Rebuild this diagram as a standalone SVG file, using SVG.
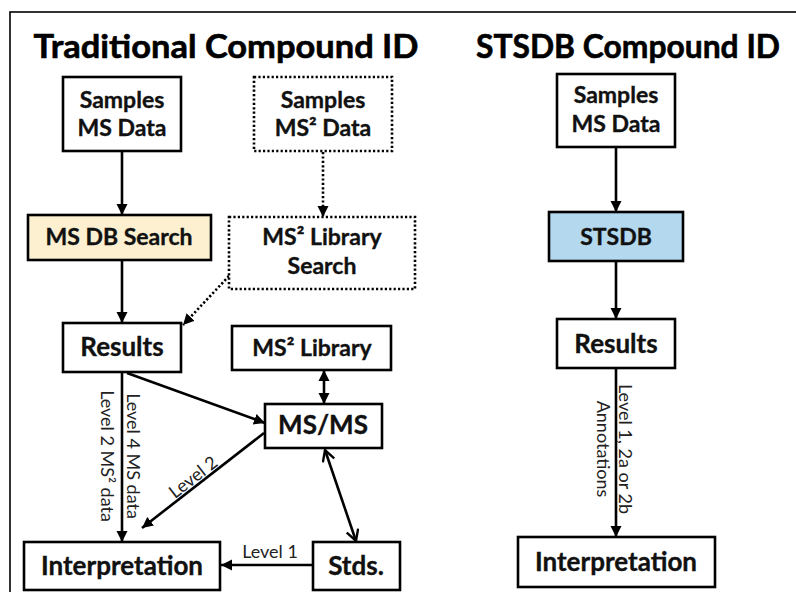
<svg xmlns="http://www.w3.org/2000/svg" width="796" height="592" viewBox="0 0 796 592">
<style>
.box{fill:#fff;stroke:#000;stroke-width:2.6}
.dot{fill:#fff;stroke:#000;stroke-width:2.6;stroke-dasharray:2.2 2.2}
.t{font-family:Lato,"Open Sans","Liberation Sans",sans-serif;font-weight:700;fill:#111;stroke:#111;stroke-width:0.35;text-anchor:middle}
.s{font-size:23px}
.m{font-size:26px}
.title{font-family:Lato,"Open Sans","Liberation Sans",sans-serif;font-weight:700;font-size:33px;fill:#000;stroke:#000;stroke-width:0.6;text-anchor:middle}
.lab{font-family:Lato,"Open Sans","Liberation Sans",sans-serif;font-weight:400;font-size:18px;fill:#222;text-anchor:middle}
.c{fill:none;stroke:#000;stroke-width:2.6}
.cd{fill:none;stroke:#000;stroke-width:2.6;stroke-dasharray:2.2 2.2}
</style>
<defs>
<marker id="ah" markerUnits="userSpaceOnUse" markerWidth="12" markerHeight="12" refX="11" refY="6" orient="auto-start-reverse" viewBox="0 0 12 12">
<path d="M0,0.5 L11,6 L0,11.5 z" fill="#000"/>
</marker>
<marker id="oh" markerUnits="userSpaceOnUse" markerWidth="14" markerHeight="14" refX="12" refY="7" orient="auto-start-reverse" viewBox="0 0 14 14">
<path d="M1,1 L12,7 L1,13" fill="none" stroke="#000" stroke-width="2.4"/>
</marker>
</defs>
<rect x="0" y="0" width="796" height="592" fill="#fff"/>
<rect x="10" y="12" width="820" height="620" fill="none" stroke="#000" stroke-width="1.6"/>
<text class="title" x="226" y="58" textLength="385" lengthAdjust="spacingAndGlyphs">Traditional Compound ID</text>
<text class="title" x="628" y="58" textLength="304" lengthAdjust="spacingAndGlyphs">STSDB Compound ID</text>

<g id="connectors">
<line class="c" x1="122" y1="151" x2="122" y2="215" marker-end="url(#ah)"/>
<line class="cd" x1="323" y1="152" x2="323" y2="217" marker-end="url(#ah)"/>
<line class="c" x1="122" y1="260" x2="122" y2="323" marker-end="url(#ah)"/>
<line class="cd" x1="229" y1="276" x2="183" y2="325" marker-end="url(#ah)"/>
<line class="c" x1="127" y1="373" x2="265" y2="423" marker-end="url(#ah)"/>
<line class="c" x1="264" y1="433" x2="142" y2="528" marker-end="url(#ah)"/>
<line class="c" x1="122" y1="372" x2="122" y2="542" marker-end="url(#ah)"/>
<line class="c" x1="324" y1="370" x2="324" y2="404" marker-start="url(#ah)" marker-end="url(#ah)"/>
<line class="c" x1="325" y1="450" x2="356" y2="541" marker-start="url(#oh)" marker-end="url(#oh)"/>
<line class="c" x1="313" y1="565" x2="221" y2="565" marker-end="url(#ah)"/>
<line class="c" x1="616" y1="147" x2="616" y2="212" marker-end="url(#ah)"/>
<line class="c" x1="616" y1="261" x2="616" y2="319" marker-end="url(#ah)"/>
<line class="c" x1="616" y1="368" x2="616" y2="537" marker-end="url(#ah)"/>
<text class="lab" transform="translate(127,456) rotate(90)">Level 4 MS data</text>
<text class="lab" transform="translate(101,456) rotate(90)">Level 2 MS² data</text>
<text class="lab" transform="translate(197,482) rotate(-38)">Level 2</text>
<text class="lab" x="270" y="558">Level 1</text>
<text class="lab" transform="translate(619,449) rotate(90)">Level 1, 2a or 2b</text>
<text class="lab" transform="translate(597,449) rotate(90)">Annotations</text>
</g>

<g id="samples-ms">
<rect class="box" x="63" y="77" width="118" height="74"/>
<text class="t s" x="122" y="108">Samples</text>
<text class="t s" x="122" y="136">MS Data</text>
</g>
<g id="samples-ms2">
<rect class="dot" x="254" y="77" width="138" height="74"/>
<text class="t s" x="323" y="108">Samples</text>
<text class="t s" x="323" y="136">MS² Data</text>
</g>
<g id="ms-db-search">
<rect class="box" x="28" y="215" width="183" height="45" style="fill:#fcf0d0"/>
<text class="t s" x="119" y="245">MS DB Search</text>
</g>
<g id="ms2-library-search">
<rect class="dot" x="229" y="217" width="186" height="72"/>
<text class="t s" x="322" y="245">MS² Library</text>
<text class="t s" x="322" y="274">Search</text>
</g>
<g id="results">
<rect class="box" x="63" y="323" width="118" height="49"/>
<text class="t m" x="122" y="356">Results</text>
</g>
<g id="ms2-library">
<rect class="box" x="232" y="326" width="159" height="44"/>
<text class="t s" x="312" y="356">MS² Library</text>
</g>
<g id="msms">
<rect class="box" x="265" y="404" width="117" height="44"/>
<text class="t m" x="323" y="434">MS/MS</text>
</g>
<g id="interpretation">
<rect class="box" x="24" y="542" width="196" height="48"/>
<text class="t m" x="122" y="575">Interpretation</text>
</g>
<g id="stds">
<rect class="box" x="313" y="542" width="87" height="48"/>
<text class="t m" x="356" y="575">Stds.</text>
</g>
<g id="stsdb-samples">
<rect class="box" x="557" y="74" width="118" height="73"/>
<text class="t s" x="616" y="103">Samples</text>
<text class="t s" x="616" y="132">MS Data</text>
</g>
<g id="stsdb">
<rect class="box" x="549" y="212" width="134" height="49" style="fill:#b4d8ee"/>
<text class="t s" x="616" y="245">STSDB</text>
</g>
<g id="stsdb-results">
<rect class="box" x="557" y="319" width="118" height="49"/>
<text class="t m" x="616" y="353">Results</text>
</g>
<g id="stsdb-interpretation">
<rect class="box" x="518" y="537" width="197" height="50"/>
<text class="t m" x="616" y="571">Interpretation</text>
</g>
</svg>
